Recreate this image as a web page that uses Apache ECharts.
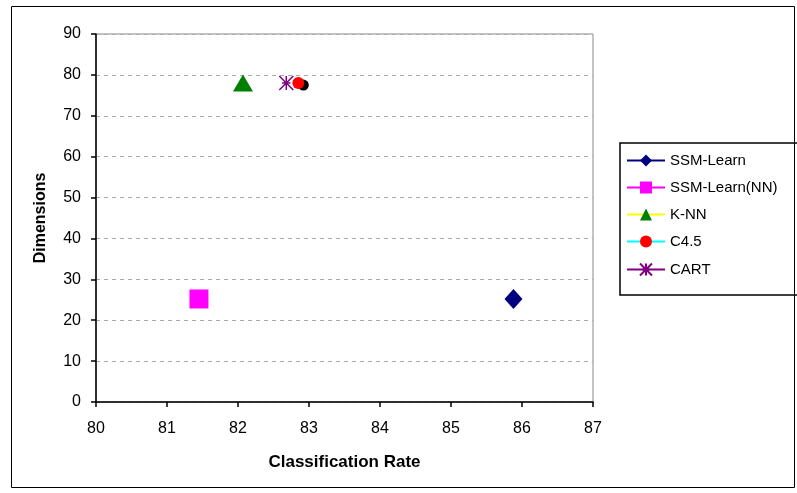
<!DOCTYPE html>
<html lang="en">
<head>
    <meta charset="UTF-8">
    <title>scatter</title>
    <script src="https://cdn.jsdelivr.net/npm/echarts@6/dist/echarts.min.js"></script>
    <style>
        html,body{margin:0;padding:0;background:#fff;}
        #main{width:797px;height:493px;}
    </style>
</head>
<body>
    <div id="main"></div>
</body>
<script>
    // data: [classification rate, dimensions]
    var seriesNames = ['SSM-Learn', 'SSM-Learn(NN)', 'K-NN', 'C4.5', 'CART'];
    var ssmLearn = [[85.88, 25.2]];
    var ssmLearnNN = [[81.45, 25.2]];
    var knn = [[82.07, 78]];
    var c45 = [[82.85, 78]];
    var cart = [[82.68, 78]];
    var extraPoint = [[82.92, 77.5]]; // black marker behind C4.5, not in legend
    var xTicks = [80, 81, 82, 83, 84, 85, 86, 87];
    var yTicks = [0, 10, 20, 30, 40, 50, 60, 70, 80, 90];

    // asterisk-like star marker (X + vertical + short horizontal)
    var starPath = 'path://M0,0L10,10M10,0L0,10M5,0L5,10M2,5L8,5';

    var myChart = echarts.init(document.getElementById('main'));

    function mk(name, data, symbol, size, color, lineColor, extra) {
        var s = {
            name: name,
            type: 'line',
            data: data,
            symbol: symbol,
            symbolSize: size,
            showSymbol: true,
            itemStyle: {color: color},
            lineStyle: {color: lineColor, width: 2},
            z: 3
        };
        if (extra) { for (var k in extra) s[k] = extra[k]; }
        return s;
    }

    var option = {
        animation: false,
        textStyle: {fontFamily: 'Liberation Sans, Arial, sans-serif'},
        graphic: [{
            type: 'rect',
            shape: {x: 11.5, y: 6.5, width: 783, height: 481},
            style: {fill: 'none', stroke: '#000', lineWidth: 1},
            silent: true
        }],
        grid: {
            left: 96, right: 204, top: 34, bottom: 91,
            show: true, borderColor: '#888', borderWidth: 1
        },
        legend: {
            data: seriesNames,
            orient: 'vertical',
            left: 620,
            top: 143,
            padding: [10, 40, 17, 6],
            itemGap: 12,
            itemWidth: 38,
            itemHeight: 15,
            borderColor: '#000',
            borderWidth: 1.5,
            textStyle: {fontSize: 15, color: '#000', fontFamily: 'Liberation Sans, Arial, sans-serif'}
        },
        xAxis: {
            type: 'value',
            min: xTicks[0], max: xTicks[xTicks.length - 1], interval: 1,
            name: 'Classification Rate',
            nameLocation: 'middle',
            nameGap: 52,
            nameTextStyle: {fontSize: 17, fontWeight: 'bold', color: '#000'},
            axisLine: {lineStyle: {color: '#000', width: 1.5}},
            axisTick: {show: true, length: 5, lineStyle: {color: '#000', width: 1.5}},
            axisLabel: {fontSize: 16, color: '#000', margin: 19},
            splitLine: {show: false}
        },
        yAxis: {
            type: 'value',
            min: yTicks[0], max: yTicks[yTicks.length - 1], interval: 10,
            name: 'Dimensions',
            nameLocation: 'middle',
            nameGap: 47,
            nameTextStyle: {fontSize: 16, fontWeight: 'bold', color: '#000'},
            axisLine: {show: true, lineStyle: {color: '#000', width: 1.5}},
            axisTick: {show: true, length: 5, lineStyle: {color: '#000', width: 1.5}},
            axisLabel: {fontSize: 16, color: '#000', margin: 15},
            splitLine: {show: true, lineStyle: {color: '#aaa', type: [4, 4], width: 1}}
        },
        series: [
            mk('extra', extraPoint, 'circle', 11, '#000', '#000', {z: 2}),
            mk(seriesNames[0], ssmLearn, 'diamond', [18, 20], '#000080', '#000080'),
            mk(seriesNames[1], ssmLearnNN, 'rect', 19, '#ff00ff', '#ff00ff'),
            mk(seriesNames[2], knn, 'triangle', [20, 17], '#008000', '#ffff00'),
            mk(seriesNames[3], c45, 'circle', 12, '#ff0000', '#00ffff', {z: 4}),
            mk(seriesNames[4], cart, starPath, 14, '#800080', '#800080', {
                itemStyle: {color: 'none', borderColor: '#800080', borderWidth: 1.5}
            })
        ]
    };

    myChart.setOption(option, true);
</script>
</html>
